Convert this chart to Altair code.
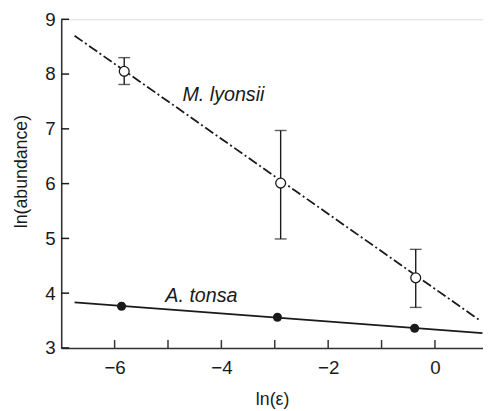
import altair as alt
import pandas as pd

# M. lyonsii (open circles) with error bars
x_ml = [-5.82, -2.89, -0.36]
y_ml = [8.05, 6.01, 4.28]
ml_hi = [8.30, 6.97, 4.80]
ml_lo = [7.81, 4.99, 3.74]
# A. tonsa (filled circles)
x_at = [-5.87, -2.95, -0.38]
y_at = [3.76, 3.56, 3.36]
# fitted lines
ml_fit_x = [-6.75, 0.86]
ml_fit_y = [8.70, 3.49]
at_fit_x = [-6.75, 0.89]
at_fit_y = [3.83, 3.27]
# axis ticks
x_ticks = [-6, -5, -4, -3, -2, -1, 0]
x_labels = [-6, -4, -2, 0]
y_ticks = [3, 4, 5, 6, 7, 8, 9]
# species labels
label_text = ["M. lyonsii", "A. tonsa"]
label_x = [-4.73, -5.05]
label_y = [7.51, 3.83]

FONT = "Liberation Sans"
INK = "#1a1a1a"
AX = "#333333"
W, H = 428, 333.5

xs = alt.Scale(domain=[-7, 0.9], nice=False, zero=False)
ys = alt.Scale(domain=[3, 9], nice=False, zero=False)

ml = pd.DataFrame({"x": x_ml, "y": y_ml, "hi": ml_hi, "lo": ml_lo})
at = pd.DataFrame({"x": x_at, "y": y_at})
mlfit = pd.DataFrame({"x": ml_fit_x, "y": ml_fit_y})
atfit = pd.DataFrame({"x": at_fit_x, "y": at_fit_y})
labs = pd.DataFrame({"t": label_text, "x": label_x, "y": label_y})
xt = pd.DataFrame({"v": x_ticks})
yt = pd.DataFrame({"v": y_ticks})

xaxis = alt.Axis(values=x_labels, format="d", title="ln(ε)", tickSize=0, grid=False,
                 labelFontSize=19, titleFontSize=18, labelFont=FONT, titleFont=FONT,
                 labelColor=INK, titleColor=INK, domainColor=AX, domainWidth=1.6,
                 labelPadding=11, titlePadding=13, titleFontWeight="normal")
yaxis = alt.Axis(values=y_ticks, format="d", title="ln(abundance)", tickSize=0, grid=False,
                 labelFontSize=19, titleFontSize=18, labelFont=FONT, titleFont=FONT,
                 labelColor=INK, titleColor=INK, domainColor=AX, domainWidth=1.6,
                 labelPadding=6, titleX=-31, titleY=154, titleBaseline="bottom",
                 titleFontWeight="normal")

base_axes = alt.Chart(ml).mark_point(opacity=0).encode(
    x=alt.X("x:Q", scale=xs, axis=xaxis),
    y=alt.Y("y:Q", scale=ys, axis=yaxis),
)

xtick_layer = alt.Chart(xt).mark_rule(color=AX, strokeWidth=1.5).encode(
    x=alt.X("v:Q", scale=xs), y=alt.value(H), y2=alt.value(H - 8))
ytick_layer = alt.Chart(yt).mark_rule(color=INK, strokeWidth=1.5).encode(
    y=alt.Y("v:Q", scale=ys), x=alt.value(0), x2=alt.value(8))

ml_line = alt.Chart(mlfit).mark_line(color=INK, strokeWidth=1.8, strokeDash=[10, 3, 2, 3]).encode(
    x=alt.X("x:Q", scale=xs), y=alt.Y("y:Q", scale=ys))
at_line = alt.Chart(atfit).mark_line(color=INK, strokeWidth=1.8).encode(
    x=alt.X("x:Q", scale=xs), y=alt.Y("y:Q", scale=ys))

err = alt.Chart(ml).mark_rule(color=INK, strokeWidth=1.4).encode(
    x=alt.X("x:Q", scale=xs), y=alt.Y("lo:Q", scale=ys), y2="hi:Q")
cap_hi = alt.Chart(ml).mark_tick(color=INK, thickness=1.4, size=12, orient="horizontal").encode(
    x=alt.X("x:Q", scale=xs), y=alt.Y("hi:Q", scale=ys))
cap_lo = alt.Chart(ml).mark_tick(color=INK, thickness=1.4, size=12, orient="horizontal").encode(
    x=alt.X("x:Q", scale=xs), y=alt.Y("lo:Q", scale=ys))

ml_pts = alt.Chart(ml).mark_point(shape="circle", filled=False, fill="white", fillOpacity=1,
                                  stroke=INK, strokeWidth=1.3, size=100, opacity=1).encode(
    x=alt.X("x:Q", scale=xs), y=alt.Y("y:Q", scale=ys))
at_pts = alt.Chart(at).mark_circle(color=INK, size=85, opacity=1).encode(
    x=alt.X("x:Q", scale=xs), y=alt.Y("y:Q", scale=ys))

texts = alt.Chart(labs).mark_text(font=FONT, fontSize=20, fontStyle="italic", color=INK,
                                  align="left", baseline="alphabetic").encode(
    x=alt.X("x:Q", scale=xs), y=alt.Y("y:Q", scale=ys), text="t:N")

chart = alt.layer(base_axes, xtick_layer, ytick_layer, ml_line, at_line, err, cap_hi, cap_lo,
                  ml_pts, at_pts, texts).properties(
    width=W, height=H,
    autosize=alt.AutoSizeParams(type="none"),
    padding={"left": 54, "top": 8.5, "right": 0, "bottom": 60},
).configure_view(stroke=None).configure(background="white")

chart.save("out.html", embed_options={"renderer": "svg", "actions": False})
